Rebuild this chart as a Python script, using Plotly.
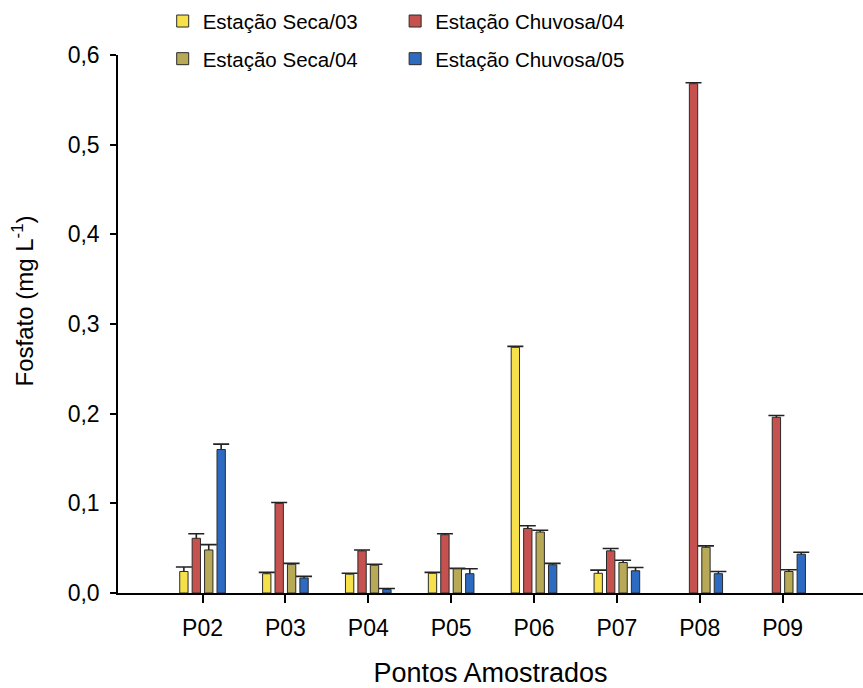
import plotly.graph_objects as go

points = ["P02", "P03", "P04", "P05", "P06", "P07", "P08", "P09"]

seca03 = [0.024, 0.0215, 0.021, 0.022, 0.274, 0.022, None, None]
seca03_err = [0.005, 0.0015, 0.001, 0.001, 0.001, 0.0035, None, None]

chuv04 = [0.061, 0.100, 0.047, 0.065, 0.072, 0.047, 0.568, 0.196]
chuv04_err = [0.005, 0.001, 0.001, 0.001, 0.003, 0.0027, 0.001, 0.002]

seca04 = [0.048, 0.032, 0.031, 0.027, 0.068, 0.034, 0.051, 0.024]
seca04_err = [0.006, 0.001, 0.001, 0.0005, 0.002, 0.0026, 0.0016, 0.002]

chuv05 = [0.160, 0.0167, 0.004, 0.0215, 0.0315, 0.0248, 0.0215, 0.0433]
chuv05_err = [0.006, 0.0018, 0.001, 0.0055, 0.0015, 0.0037, 0.0025, 0.0022]

series = [
    ("Estação Seca/03", seca03, seca03_err, "#F6E14B", "legend"),
    ("Estação Chuvosa/04", chuv04, chuv04_err, "#C5524E", "legend2"),
    ("Estação Seca/04", seca04, seca04_err, "#B7A955", "legend"),
    ("Estação Chuvosa/05", chuv05, chuv05_err, "#2D6BC2", "legend2"),
]

FONT = "Liberation Sans, Arial, sans-serif"
fig = go.Figure()

# error-bar carriers (drawn first, hidden beneath the real bars)
for i, (name, vals, errs, color, leg) in enumerate(series):
    minus = [None if v is None else v + 0.02 for v in vals]
    fig.add_trace(go.Bar(
        x=points, y=vals, offsetgroup=str(i), showlegend=False,
        marker=dict(color="rgba(0,0,0,0)", line=dict(width=0)),
        error_y=dict(type="data", symmetric=False, array=errs, arrayminus=minus,
                     color="#222222", thickness=1.6, width=8),
        hoverinfo="skip",
    ))

for i, (name, vals, errs, color, leg) in enumerate(series):
    fig.add_trace(go.Bar(
        x=points, y=vals, name=name, offsetgroup=str(i), legend=leg,
        legendgroup=name,
        marker=dict(color=color, line=dict(color="#2a2a2a", width=1)),
    ))

fig.update_layout(
    width=863, height=688,
    margin=dict(l=118, r=0, t=55, b=93),
    paper_bgcolor="white", plot_bgcolor="white",
    barmode="group", bargap=0.4, bargroupgap=0.33,
    separators=",.",
    font=dict(family=FONT, size=22, color="black"),
    legend=dict(x=0.06, y=1.1, xanchor="left", yanchor="top",
                font=dict(size=20.5, family=FONT), tracegroupgap=8,
                bgcolor="rgba(0,0,0,0)"),
    legend2=dict(x=0.372, y=1.1, xanchor="left", yanchor="top",
                 font=dict(size=20.5, family=FONT), tracegroupgap=8,
                 bgcolor="rgba(0,0,0,0)"),
    annotations=[dict(text="Fosfato (mg L<sup>-1</sup>)", textangle=-90,
                      xref="paper", yref="paper", x=-0.128, y=0.543,
                      xanchor="center", yanchor="middle",
                      showarrow=False, font=dict(size=24, family=FONT))],
)

fig.update_xaxes(
    type="category", range=[-1.02, 7.97],
    showline=True, linecolor="black", linewidth=1.5,
    ticks="outside", ticklen=8, tickwidth=1.5, tickcolor="black",
    tickfont=dict(size=23), ticklabelstandoff=6,
    showgrid=False, zeroline=False,
    title=dict(text="Pontos Amostrados", font=dict(size=27), standoff=28),
)
fig.update_yaxes(
    range=[0, 0.6], dtick=0.1, tickformat=".1f",
    showline=True, linecolor="black", linewidth=1.5,
    ticks="outside", ticklen=6, tickwidth=1.5, tickcolor="black",
    tickfont=dict(size=23), ticklabelstandoff=6,
    showgrid=False, zeroline=False,
)

fig.write_html("out.html")
